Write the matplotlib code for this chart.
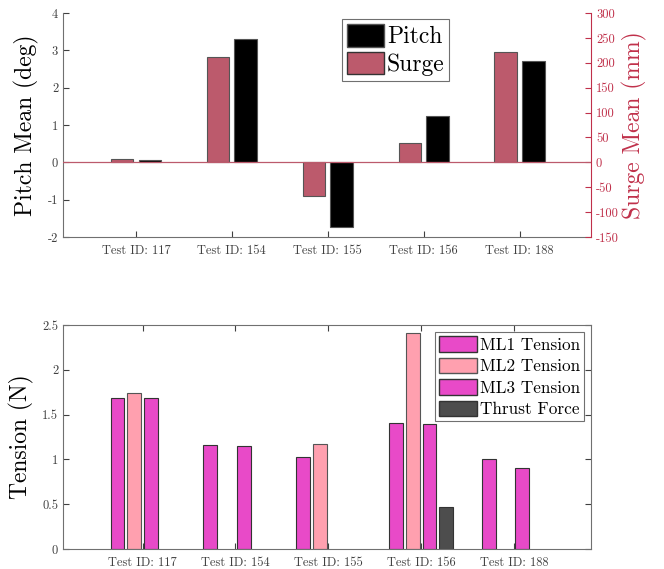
import numpy as np
from matplotlib import pyplot as plt
from matplotlib.patches import Patch

plt.rcParams['font.family'] = 'cmr10'
plt.rcParams['mathtext.fontset'] = 'cm'
plt.rcParams['axes.unicode_minus'] = False
plt.rcParams['axes.formatter.use_mathtext'] = False

# Mean pitch / surge per test
tests = ['Test ID: 117', 'Test ID: 154', 'Test ID: 155', 'Test ID: 156', 'Test ID: 188']
pitch_mean = [0.07, 3.30, -1.73, 1.23, 2.71]     # deg
surge_mean = [6, 212, -68, 38, 222]              # mm

# Mean tensions per test (nan = no data)
ml1_tension = [1.69, 1.16, 1.025, 1.405, 1.01]
ml2_tension = [1.74, np.nan, 1.17, 2.41, np.nan]
ml3_tension = [1.685, 1.15, np.nan, 1.395, 0.905]
thrust_force = [np.nan, np.nan, np.nan, 0.465, np.nan]

col_surge = '#bc5a6c'
col_axis = '#c0304a'
col_ml1 = '#e84ac8'
col_ml2 = '#ffa0af'
col_thrust = '#4d4d4d'
col_spine = '#707070'
col_text = '#404040'
edge = '#555555'

fig = plt.figure(figsize=(6.64, 5.69), dpi=100)
x = np.arange(1, len(tests) + 1)

# ---- top: pitch and surge ----
ax1 = fig.add_axes([0.0949, 0.5835, 0.7953, 0.3935])
ax2 = ax1.twinx()
ax1.bar(x + 0.145, pitch_mean, 0.235, color='black', edgecolor=edge, linewidth=0.8)
ax2.bar(x - 0.145, surge_mean, 0.235, color=col_surge, edgecolor=edge, linewidth=0.8)
ax2.axhline(0, color=col_surge, linewidth=0.9)
ax1.set_xlim(0.24, 5.745)
ax1.set_ylim(-2, 4)
ax2.set_ylim(-150, 300)
ax1.set_xticks(x)
ax1.set_xticklabels(tests)
ax1.set_yticks(range(-2, 5))
ax2.set_yticks(range(-150, 301, 50))
ax1.set_ylabel('Pitch Mean (deg)', fontsize=17, labelpad=6)
ax2.set_ylabel('Surge Mean (mm)', fontsize=17, color=col_axis, labelpad=2)
for a in (ax1, ax2):
    a.spines['top'].set_visible(False)
ax1.spines['right'].set_visible(False)
ax1.spines['left'].set_color(col_spine)
ax1.spines['bottom'].set_color(col_spine)
ax2.spines['left'].set_visible(False)
ax2.spines['bottom'].set_visible(False)
ax2.spines['right'].set_color(col_axis)
ax1.tick_params(direction='in', labelsize=9, colors=col_text, length=4)
ax2.tick_params(direction='in', labelsize=9, colors=col_axis, length=4)
ax1.tick_params(axis='x', pad=6)
handles = [Patch(facecolor='black', edgecolor=edge, label='Pitch'),
           Patch(facecolor=col_surge, edgecolor='#333333', label='Surge')]
leg = ax2.legend(handles=handles, loc='upper left', bbox_to_anchor=(0.528, 0.973),
                 borderaxespad=0, fontsize=17, handlelength=1.6, handleheight=1.1,
                 handletextpad=0.1, borderpad=0.2, labelspacing=0.15,
                 fancybox=False, framealpha=1)
leg.get_frame().set_edgecolor(col_spine)
leg.get_frame().set_linewidth(0.8)

# ---- bottom: tensions ----
ax3 = fig.add_axes([0.0949, 0.0351, 0.7953, 0.3937])
w = 0.15
ax3.bar(x - 0.27, ml1_tension, w, color=col_ml1, edgecolor='#333333', linewidth=0.8)
ax3.bar(x - 0.09, ml2_tension, w, color=col_ml2, edgecolor=edge, linewidth=0.8)
ax3.bar(x + 0.09, ml3_tension, w, color=col_ml1, edgecolor='#333333', linewidth=0.8)
ax3.bar(x + 0.27, thrust_force, w, color=col_thrust, edgecolor='#333333', linewidth=0.8)
ax3.set_xlim(0.143, 5.83)
ax3.set_ylim(0, 2.5)
ax3.set_xticks(x)
ax3.set_xticklabels(tests)
ax3.set_yticks([0, 0.5, 1, 1.5, 2, 2.5])
ax3.set_yticklabels(['0', '0.5', '1', '1.5', '2', '2.5'])
ax3.set_ylabel('Tension (N)', fontsize=17, labelpad=6)
for s in ax3.spines.values():
    s.set_color(col_spine)
ax3.tick_params(direction='in', labelsize=9, colors=col_text, length=4,
                top=True, right=True)
ax3.tick_params(axis='x', pad=6)
handles = [Patch(facecolor=col_ml1, edgecolor='#333333', label='ML1 Tension'),
           Patch(facecolor=col_ml2, edgecolor=edge, label='ML2 Tension'),
           Patch(facecolor=col_ml1, edgecolor='#333333', label='ML3 Tension'),
           Patch(facecolor=col_thrust, edgecolor='#333333', label='Thrust Force')]
leg = ax3.legend(handles=handles, loc='upper right', bbox_to_anchor=(0.987, 0.969),
                 borderaxespad=0, fontsize=12.4, handlelength=2.2, handleheight=1.0,
                 handletextpad=0.15, borderpad=0.25, labelspacing=0.28,
                 fancybox=False, framealpha=1)
leg.get_frame().set_edgecolor(col_spine)
leg.get_frame().set_linewidth(0.8)

fig.savefig('out.png', dpi=100)
